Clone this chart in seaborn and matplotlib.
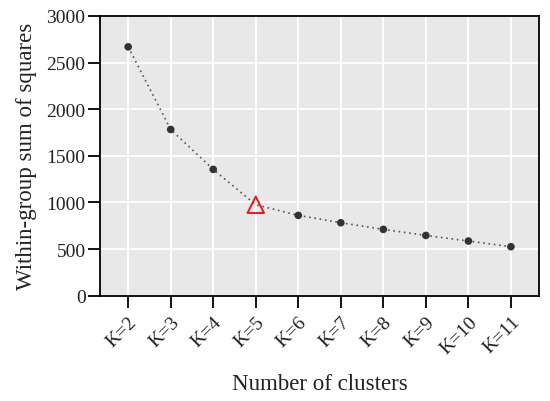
import numpy as np
import pandas as pd
import matplotlib
matplotlib.use("Agg")
import matplotlib.pyplot as plt
import seaborn as sns

# values
k_labels = ["K=2", "K=3", "K=4", "K=5", "K=6", "K=7", "K=8", "K=9", "K=10", "K=11"]
wss = [2668, 1782, 1354, 975, 861, 782, 711, 646, 586, 525]
elbow_label = "K=5"

df = pd.DataFrame({"k": k_labels, "wss": wss})
df["pos"] = np.arange(len(df))
elbow = df[df["k"] == elbow_label]
others = df[df["k"] != elbow_label]

sns.set_theme(style="darkgrid", rc={
    "axes.facecolor": "#E8E8E8",
    "grid.color": "white",
    "grid.linewidth": 1.3,
    "axes.edgecolor": "black",
    "axes.linewidth": 1.3,
})
plt.rcParams["font.family"] = ["Liberation Serif", "DejaVu Serif"]

fig, ax = plt.subplots(figsize=(5.5, 4.02), dpi=100)

sns.lineplot(data=df, x="pos", y="wss", ax=ax, color="#555555",
             linestyle=(0, (1, 2.2)), linewidth=1.2)
sns.scatterplot(data=others, x="pos", y="wss", ax=ax, color="#333333",
                s=30, edgecolor="none", zorder=3)
sns.scatterplot(data=elbow, x="pos", y="wss", ax=ax, marker="^", s=140,
                facecolor="none", edgecolor="#E41A1C", linewidth=1.4, zorder=4)

ax.set_xlim(-0.66, len(df) - 1 + 0.66)
ax.set_ylim(0, 3000)
ax.set_xticks(df["pos"])
ax.set_xticklabels(k_labels, rotation=45, ha="right", rotation_mode="anchor")
ax.set_yticks([0, 500, 1000, 1500, 2000, 2500, 3000])
ax.grid(True, which="major")

ax.tick_params(axis="both", which="major", direction="out", bottom=True, left=True,
               color="black", width=1.3, labelsize=14, labelcolor="#222222")
ax.tick_params(axis="x", length=8.5, pad=4)
ax.tick_params(axis="y", length=8.5, pad=2)

for s in ax.spines.values():
    s.set_visible(True)
    s.set_color("black")
    s.set_linewidth(1.3)

ax.set_xlabel("Number of clusters", fontsize=16.5, color="#222222", labelpad=12)
ax.set_ylabel("Within-group sum of squares", fontsize=16.5, color="#222222", labelpad=7)

fig.subplots_adjust(left=0.182, right=0.98, top=0.958, bottom=0.262)
fig.savefig("out.png", dpi=100)
